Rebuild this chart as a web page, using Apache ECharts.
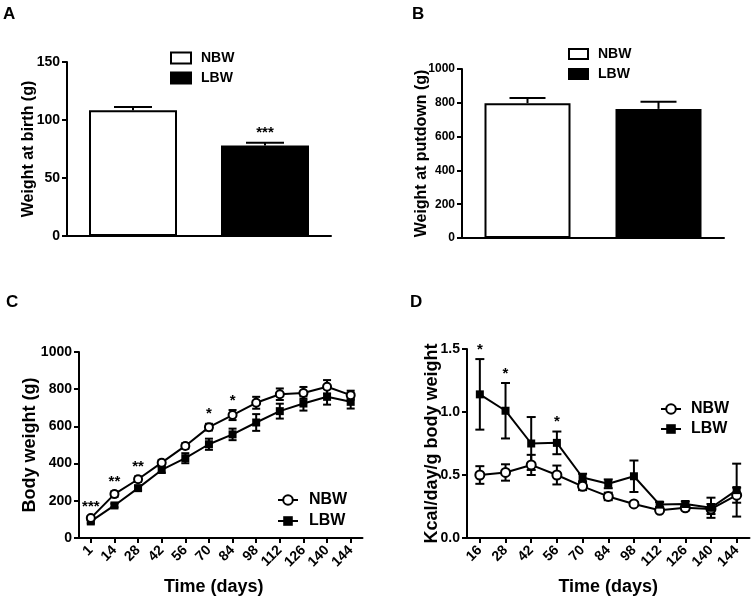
<!DOCTYPE html>
<html><head><meta charset="utf-8">
<script src="https://cdn.jsdelivr.net/npm/echarts@6/dist/echarts.min.js"></script>
<style>html,body{margin:0;padding:0;background:#fff}#c{width:754px;height:602px}</style>
</head><body><div id="c"></div>
<script>
// ---------- data ----------
const groupNames = ['NBW', 'LBW'];
const birthWeight = [108.5, 78];
const birthWeightErr = [2.6, 2.3];
const birthSig = ['', '***'];
const putdownWeight = [798, 764];
const putdownWeightErr = [30, 42];
const putdownSig = ['', ''];

const daysC = ['1', '14', '28', '42', '56', '70', '84', '98', '112', '126', '140', '144'];
const bodyNBW = [107, 236, 316, 405, 495, 596, 661, 727, 773, 780, 813, 768];
const bodyNBWErr = [12, 15, 15, 15, 15, 18, 27, 32, 31, 32, 36, 24];
const bodyLBW = [89, 175, 268, 366, 429, 504, 557, 621, 682, 723, 759, 732];
const bodyLBWErr = [10, 10, 12, 15, 27, 30, 31, 45, 40, 38, 42, 36];
const bodySig = ['***', '**', '**', '', '', '*', '*', '', '', '', '', ''];

const daysD = ['16', '28', '42', '56', '70', '84', '98', '112', '126', '140', '144'];
const kcalNBW = [0.50, 0.52, 0.58, 0.50, 0.41, 0.33, 0.27, 0.22, 0.24, 0.23, 0.34];
const kcalNBWErr = [0.07, 0.065, 0.08, 0.075, 0.03, 0.03, 0.015, 0.015, 0.02, 0.04, 0.06];
const kcalLBW = [1.14, 1.01, 0.75, 0.755, 0.48, 0.43, 0.49, 0.265, 0.27, 0.24, 0.38];
const kcalLBWErr = [0.28, 0.22, 0.21, 0.09, 0.03, 0.035, 0.125, 0.02, 0.02, 0.08, 0.21];
const kcalSig = ['*', '*', '', '*', '', '', '', '', '', '', ''];

// ---------- helpers ----------
const FONT = '"Liberation Sans", Arial, sans-serif';
const BLACK = '#000';
const txt = (size) => ({ fontFamily: FONT, fontWeight: 'bold', fontSize: size, color: BLACK });

function errRender(capHalf, upOnly) {
  return function (params, api) {
    const i = api.value(0), m = api.value(1), e = api.value(2);
    const top = api.coord([i, m + e]);
    const bot = api.coord([i, upOnly ? m : m - e]);
    const ls = { stroke: BLACK, lineWidth: 2 };
    const ch = [
      { type: 'line', shape: { x1: top[0], y1: top[1], x2: bot[0], y2: bot[1] }, style: ls },
      { type: 'line', shape: { x1: top[0] - capHalf, y1: top[1], x2: top[0] + capHalf, y2: top[1] }, style: ls }
    ];
    if (!upOnly) ch.push({ type: 'line', shape: { x1: bot[0] - capHalf, y1: bot[1], x2: bot[0] + capHalf, y2: bot[1] }, style: ls });
    return { type: 'group', children: ch };
  };
}
function errSeries(g, mean, err, capHalf, upOnly, z) {
  return {
    type: 'custom', xAxisIndex: g, yAxisIndex: g, silent: true, z: z,
    data: mean.map((m, i) => [i, m, err[i]]),
    renderItem: errRender(capHalf, upOnly)
  };
}
function sigSeries(g, sig, tops) {
  return {
    type: 'custom', xAxisIndex: g, yAxisIndex: g, silent: true, z: 6,
    data: sig.map((s, i) => [i, tops[i]]),
    renderItem: (params, api) => {
      const s = sig[params.dataIndex];
      if (!s) return null;
      const p = api.coord([api.value(0), api.value(1)]);
      return { type: 'text', style: { text: s, x: p[0], y: p[1] - 2, align: 'center', verticalAlign: 'bottom',
        fontSize: 15, fontWeight: 'bold', fontFamily: FONT, fill: BLACK } };
    }
  };
}
const maxTop = (a, ae, b, be) => a.map((v, i) => Math.max(v + ae[i], b[i] + be[i]));

const axisLine = { show: true, lineStyle: { color: BLACK, width: 2 } };
const axisTick = { show: true, length: 5, lineStyle: { color: BLACK, width: 2 } };

function barX(g) {
  return { gridIndex: g, type: 'category', data: groupNames, axisLine: axisLine, axisTick: { show: false }, axisLabel: { show: false } };
}
function lineX(g, cats, fs, pad) {
  return { gridIndex: g, type: 'category', data: cats, boundaryGap: true, axisLine: axisLine,
    axisTick: Object.assign({ alignWithLabel: true, interval: 0 }, axisTick),
    axisLabel: Object.assign({ rotate: 45, margin: 10, interval: 0 }, txt(fs)),
    name: 'Time (days)', nameLocation: 'middle', nameGap: 40, nameMoveOverlap: false,
    nameTextStyle: Object.assign({ padding: pad }, txt(18)) };
}
function valY(g, min, max, interval, name, nameGap, nameSize, fs, fmt) {
  return { gridIndex: g, type: 'value', min: min, max: max, interval: interval,
    axisLine: axisLine, axisTick: axisTick, splitLine: { show: false },
    axisLabel: Object.assign({ margin: 7, formatter: fmt || ((v) => String(v)) }, txt(fs)),
    name: name, nameLocation: 'middle', nameGap: nameGap, nameMoveOverlap: false, nameTextStyle: txt(nameSize) };
}
const legendFmt = (n) => n.split(':')[1];

const chart = echarts.init(document.getElementById('c'), null, { renderer: 'canvas' });
chart.setOption({
  animation: false,
  backgroundColor: '#fff',
  title: [
    { text: 'A', left: 3, top: 6, padding: 0, textStyle: txt(17) },
    { text: 'B', left: 412, top: 6, padding: 0, textStyle: txt(17) },
    { text: 'C', left: 6, top: 294, padding: 0, textStyle: txt(17) },
    { text: 'D', left: 410, top: 294, padding: 0, textStyle: txt(17) }
  ],
  grid: [
    { left: 67, top: 62, width: 264, height: 174 },
    { left: 462, top: 69, width: 262, height: 169 },
    { left: 79, top: 352, width: 283.5, height: 186 },
    { left: 467, top: 349, width: 282.5, height: 189 }
  ],
  legend: [
    { data: ['A:NBW', 'A:LBW'], formatter: legendFmt, orient: 'vertical', left: 170, top: 51, padding: 0, itemWidth: 20, itemHeight: 11, itemGap: 6,
      icon: 'rect', textStyle: Object.assign({ lineHeight: 14, padding: [0, 0, 0, 5] }, txt(14)) },
    { data: ['B:NBW', 'B:LBW'], formatter: legendFmt, orient: 'vertical', left: 568, top: 47, padding: 0, itemWidth: 19, itemHeight: 10, itemGap: 6,
      icon: 'rect', textStyle: Object.assign({ lineHeight: 14, padding: [0, 0, 0, 5] }, txt(14)) },
    { data: ['C:NBW', 'C:LBW'], formatter: legendFmt, orient: 'vertical', left: 277, top: 492, padding: 0, itemWidth: 20, itemHeight: 12, itemGap: 5,
      textStyle: Object.assign({ lineHeight: 16, padding: [0, 0, 0, 6] }, txt(16)) },
    { data: ['D:NBW', 'D:LBW'], formatter: legendFmt, orient: 'vertical', left: 660, top: 401, padding: 0, itemWidth: 20, itemHeight: 12, itemGap: 4,
      textStyle: Object.assign({ lineHeight: 16, padding: [0, 0, 0, 5] }, txt(16)) }
  ],
  xAxis: [barX(0), barX(1), lineX(2, daysC, 14, [0, 14, 0, 0]), lineX(3, daysD, 14, 0)],
  yAxis: [
    valY(0, 0, 150, 50, 'Weight at birth (g)', 30, 16, 14),
    valY(1, 0, 1000, 200, 'Weight at putdown (g)', 32, 16, 12),
    valY(2, 0, 1000, 200, 'Body weight (g)', 40, 18, 14),
    valY(3, 0, 1.5, 0.5, 'Kcal/day/g body weight', 26, 18, 14, (v) => v.toFixed(1))
  ],
  series: [
    // A
    errSeries(0, birthWeight, birthWeightErr, 19, true, 1),
    { type: 'bar', name: 'A:NBW', xAxisIndex: 0, yAxisIndex: 0, barWidth: 88, barGap: '-100%', silent: true, z: 2,
      data: groupNames.map((g, i) => i === 0 ? birthWeight[i] : '-'),
      itemStyle: { color: '#fff', borderColor: BLACK, borderWidth: 2 } },
    { type: 'bar', name: 'A:LBW', xAxisIndex: 0, yAxisIndex: 0, barWidth: 88, barGap: '-100%', silent: true, z: 2,
      data: groupNames.map((g, i) => i === 1 ? birthWeight[i] : '-'),
      itemStyle: { color: BLACK, borderColor: BLACK, borderWidth: 2 } },
    sigSeries(0, birthSig, birthWeight.map((v, i) => v + birthWeightErr[i])),
    // B
    errSeries(1, putdownWeight, putdownWeightErr, 18, true, 1),
    { type: 'bar', name: 'B:NBW', xAxisIndex: 1, yAxisIndex: 1, barWidth: 86, barGap: '-100%', silent: true, z: 2,
      data: groupNames.map((g, i) => i === 0 ? putdownWeight[i] : '-'),
      itemStyle: { color: '#fff', borderColor: BLACK, borderWidth: 2 } },
    { type: 'bar', name: 'B:LBW', xAxisIndex: 1, yAxisIndex: 1, barWidth: 86, barGap: '-100%', silent: true, z: 2,
      data: groupNames.map((g, i) => i === 1 ? putdownWeight[i] : '-'),
      itemStyle: { color: BLACK, borderColor: BLACK, borderWidth: 2 } },
    sigSeries(1, putdownSig, putdownWeight.map((v, i) => v + putdownWeightErr[i])),
    // C
    errSeries(2, bodyLBW, bodyLBWErr, 4, false, 1),
    errSeries(2, bodyNBW, bodyNBWErr, 4, false, 1),
    { type: 'line', name: 'C:LBW', xAxisIndex: 2, yAxisIndex: 2, data: bodyLBW, symbol: 'rect', symbolSize: 8, z: 3, silent: true,
      lineStyle: { color: BLACK, width: 2 }, itemStyle: { color: BLACK, borderColor: BLACK, borderWidth: 0 } },
    { type: 'line', name: 'C:NBW', xAxisIndex: 2, yAxisIndex: 2, data: bodyNBW, symbol: 'circle', symbolSize: 8, z: 4, silent: true,
      lineStyle: { color: BLACK, width: 2 }, itemStyle: { color: '#fff', borderColor: BLACK, borderWidth: 2 } },
    sigSeries(2, bodySig, maxTop(bodyNBW, bodyNBWErr, bodyLBW, bodyLBWErr)),
    // D
    errSeries(3, kcalLBW, kcalLBWErr, 4.5, false, 1),
    errSeries(3, kcalNBW, kcalNBWErr, 4.5, false, 1),
    { type: 'line', name: 'D:NBW', xAxisIndex: 3, yAxisIndex: 3, data: kcalNBW, symbol: 'circle', symbolSize: 9, z: 3, silent: true,
      lineStyle: { color: BLACK, width: 2 }, itemStyle: { color: '#fff', borderColor: BLACK, borderWidth: 2 } },
    { type: 'line', name: 'D:LBW', xAxisIndex: 3, yAxisIndex: 3, data: kcalLBW, symbol: 'rect', symbolSize: 8, z: 4, silent: true,
      lineStyle: { color: BLACK, width: 2 }, itemStyle: { color: BLACK, borderColor: BLACK, borderWidth: 0 } },
    sigSeries(3, kcalSig, maxTop(kcalNBW, kcalNBWErr, kcalLBW, kcalLBWErr))
  ]
});
</script>
</body></html>
